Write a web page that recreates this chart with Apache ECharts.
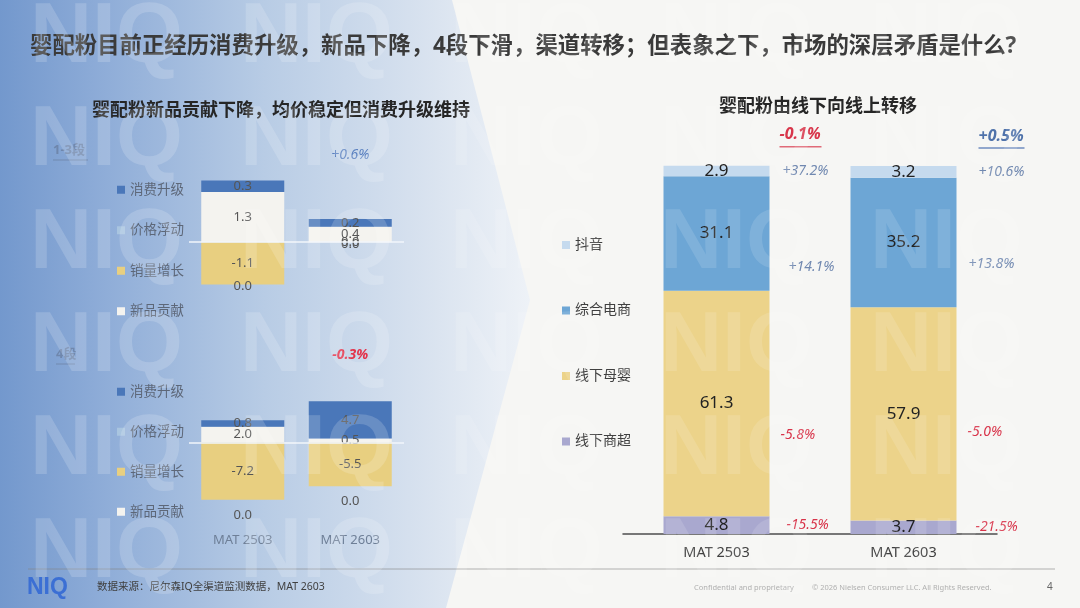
<!DOCTYPE html>
<html>
<head>
<meta charset="utf-8">
<title>婴配粉市场</title>
<script src="https://cdn.jsdelivr.net/npm/echarts@6/dist/echarts.min.js"></script>
<style>
html, body { margin: 0; padding: 0; background: #f6f6f4; }
#main { width: 1080px; height: 608px; }
</style>
</head>
<body>
<div id="main"></div>
<script>
// 类目
var periods = ['MAT 2503', 'MAT 2603'];

// 1-3段：增长拆解
var seg13Upgrade = [0.3, 0.2];   // 消费升级
var seg13Price = [0.0, 0.0];     // 价格浮动
var seg13Volume = [-1.1, 0.0];   // 销量增长
var seg13New = [1.3, 0.4];       // 新品贡献
var seg13Total = [null, '+0.6%'];

// 4段：增长拆解
var seg4Upgrade = [0.8, 4.7];
var seg4Price = [0.0, 0.0];
var seg4Volume = [-7.2, -5.5];
var seg4New = [2.0, 0.5];
var seg4Total = [null, '-0.3%'];

// 渠道份额（%）
var chMall = [4.8, 3.7];      // 线下商超
var chBaby = [61.3, 57.9];    // 线下母婴
var chEcom = [31.1, 35.2];    // 综合电商
var chDouyin = [2.9, 3.2];    // 抖音
// 渠道增速
var grMall = ['-15.5%', '-21.5%'];
var grBaby = ['-5.8%', '-5.0%'];
var grEcom = ['+14.1%', '+13.8%'];
var grDouyin = ['+37.2%', '+10.6%'];
var grTotal = ['-0.1%', '+0.5%'];

var FONT = "'Noto Sans', 'Noto Sans CJK SC', sans-serif";
var C_UP = '#4a77b9', C_PRICE = '#a9c5e0', C_VOL = '#e8cf80', C_NEW = '#f4f3ef';
var C_MALL = '#a9a8cf', C_BABY = '#ecd38a', C_ECOM = '#6da6d5', C_DY = '#c5daee';

function sign(s) { return s.charAt(0) === '-' ? 'n' : 'p'; }
function fix1(p) { return p.value == null ? '' : Number(p.value).toFixed(1); }

var valLabel = { show: true, position: 'inside', fontSize: 13, color: '#555', fontFamily: FONT, formatter: fix1 };

// 左侧两个小图的系列
function waterSeries(idx, up, price, vol, nw, total, zeroDist, totalOffset) {
  var st = 'left' + idx;
  var base = { type: 'bar', stack: st, xAxisIndex: idx, yAxisIndex: idx, barWidth: 83, silent: true };
  return [
    Object.assign({}, base, {
      name: '新品贡献', data: nw, itemStyle: { color: C_NEW }, label: valLabel,
      markLine: {
        silent: true, symbol: ['none', 'none'], label: { show: false },
        lineStyle: { color: '#f2f6fb', width: 1.5, type: 'solid' },
        data: [{ yAxis: 0 }]
      }
    }),
    Object.assign({}, base, { name: '消费升级', data: up, itemStyle: { color: C_UP }, label: valLabel }),
    Object.assign({}, base, { name: '销量增长', data: vol, stackStrategy: 'negative', itemStyle: { color: C_VOL }, label: valLabel }),
    Object.assign({}, base, {
      name: '价格浮动', data: price, stackStrategy: 'negative', itemStyle: { color: C_PRICE },
      label: Object.assign({}, valLabel, { position: 'bottom', distance: zeroDist })
    }),
    Object.assign({}, base, {
      name: '合计' + idx, stackStrategy: 'positive',
      data: total.map(function (t) { return t == null ? null : 0; }),
      itemStyle: { color: 'transparent' },
      label: {
        show: true, position: 'top', offset: [0, totalOffset],
        formatter: function (p) { var t = total[p.dataIndex]; return t ? '{' + sign(t) + '|' + t + '}' : ''; },
        rich: {
          p: { color: '#5a80c0', fontStyle: 'italic', fontSize: 14, fontFamily: FONT },
          n: { color: '#e3344c', fontStyle: 'italic', fontWeight: 'bold', fontSize: 14, fontFamily: FONT }
        }
      }
    })
  ];
}

// 右侧渠道图
var growthRich = {
  p: { color: '#7088b0', fontStyle: 'italic', fontSize: 14, fontFamily: FONT },
  n: { color: '#d83349', fontStyle: 'italic', fontSize: 14, fontFamily: FONT }
};
// 增速标签相对柱子右缘的微调 [dx, dy]，按类目
var OFF_MALL = [[6, 0], [8, 0]];
var OFF_BABY = [[0, 31], [0, 18]];
var OFF_ECOM = [[8, 33], [1, 21]];
var OFF_DY = [[2, 0], [11, 0]];
var OFF_TOTAL = [[0, -29], [12, -28]];

function shareSeries(name, data, color) {
  return {
    name: name, type: 'bar', stack: 'share', xAxisIndex: 2, yAxisIndex: 2, barWidth: 106, barGap: '-100%',
    data: data, itemStyle: { color: color }, silent: true, clip: false,
    label: { show: true, position: 'inside', fontSize: 17, color: '#222', fontFamily: FONT, formatter: fix1 }
  };
}
function withOffsets(data, offs) {
  return data.map(function (v, i) { return { value: v, label: { offset: offs[i] } }; });
}
function growthSeries(name, data, growth, offs) {
  return {
    name: name + '增速', type: 'bar', stack: 'growth', xAxisIndex: 2, yAxisIndex: 2, barWidth: 106, barGap: '-100%',
    data: withOffsets(data, offs), itemStyle: { color: 'transparent' }, silent: true, clip: false,
    label: {
      show: true, position: 'right', distance: 11,
      formatter: function (p) { var g = growth[p.dataIndex]; return '{' + sign(g) + '|' + g + '}'; },
      rich: growthRich
    }
  };
}

var series = []
  .concat(waterSeries(0, seg13Upgrade, seg13Price, seg13Volume, seg13New, seg13Total, -4.5, -52))
  .concat(waterSeries(1, seg4Upgrade, seg4Price, seg4Volume, seg4New, seg4Total, 9, -34))
  .concat([
    shareSeries('线下商超', chMall, C_MALL),
    shareSeries('线下母婴', chBaby, C_BABY),
    shareSeries('综合电商', chEcom, C_ECOM),
    shareSeries('抖音', chDouyin, C_DY),
    growthSeries('线下商超', chMall, grMall, OFF_MALL),
    growthSeries('线下母婴', chBaby, grBaby, OFF_BABY),
    growthSeries('综合电商', chEcom, grEcom, OFF_ECOM),
    growthSeries('抖音', chDouyin, grDouyin, OFF_DY),
    {
      name: '渠道合计', type: 'bar', stack: 'growth', xAxisIndex: 2, yAxisIndex: 2, barWidth: 106, barGap: '-100%',
      data: withOffsets(grTotal.map(function () { return 0; }), OFF_TOTAL),
      itemStyle: { color: 'transparent' }, silent: true, clip: false,
      label: {
        show: true, position: 'right', distance: 10,
        formatter: function (p) { var g = grTotal[p.dataIndex]; return '{' + sign(g) + '|' + g + '}\n{' + sign(g) + 'u|}'; },
        rich: {
          p: { color: '#4f72aa', fontStyle: 'italic', fontWeight: 'bold', fontSize: 16, fontFamily: FONT, lineHeight: 20 },
          n: { color: '#d8364b', fontStyle: 'italic', fontWeight: 'bold', fontSize: 16, fontFamily: FONT, lineHeight: 20 },
          pu: { backgroundColor: '#6f8cc0', width: 46, height: 1.5, lineHeight: 4 },
          nu: { backgroundColor: '#e06a78', width: 42, height: 1.5, lineHeight: 4 }
        }
      }
    }
  ]);

// 背景、水印、页脚
var graphics = [
  {
    type: 'polygon', z: -10, silent: true,
    shape: { points: [[0, 0], [452, 0], [530, 300], [446, 608], [0, 608]] },
    style: {
      fill: new echarts.graphic.LinearGradient(0, 0, 1, 0, [
        { offset: 0, color: '#7398cd' },
        { offset: 0.2, color: '#8fadd8' },
        { offset: 0.5, color: '#b8cce5' },
        { offset: 0.8, color: '#d8e2ef' },
        { offset: 1, color: '#eef2f7' }
      ])
    }
  }
];
for (var r = 0; r < 6; r++) {
  for (var c = 0; c < 6; c++) {
    graphics.push({
      type: 'text', z: 50, silent: true, left: 30 + c * 210, top: -5 + r * 103,
      style: { text: 'NIQ', fontSize: 86, fontWeight: 'bold', fontFamily: 'Liberation Sans',
        fill: c < 2 ? 'rgba(255,255,255,0.17)' : 'rgba(255,255,255,0.13)' }
    });
  }
}
graphics = graphics.concat([
  { type: 'text', left: 53, top: 144, silent: true,
    style: { text: '1-3段', fontSize: 13, fontWeight: 'bold', fontFamily: FONT, fill: 'rgba(95,112,140,0.55)' } },
  { type: 'line', silent: true, shape: { x1: 53, y1: 160, x2: 88, y2: 160 }, style: { stroke: 'rgba(95,112,140,0.5)', lineWidth: 1 } },
  { type: 'text', left: 56, top: 348, silent: true,
    style: { text: '4段', fontSize: 13, fontWeight: 'bold', fontFamily: FONT, fill: 'rgba(95,112,140,0.55)' } },
  { type: 'line', silent: true, shape: { x1: 56, y1: 364, x2: 75, y2: 364 }, style: { stroke: 'rgba(95,112,140,0.5)', lineWidth: 1 } },
  { type: 'line', silent: true, shape: { x1: 28, y1: 569, x2: 1055, y2: 569 }, style: { stroke: 'rgba(130,130,130,0.6)', lineWidth: 1 } },
  { type: 'text', left: 27, top: 576, silent: true,
    style: { text: 'NIQ', fontSize: 23, fontWeight: 900, fontFamily: 'Liberation Sans', fill: '#3b6fd4' } },
  { type: 'text', left: 97, top: 582, silent: true,
    style: { text: '数据来源：尼尔森IQ全渠道监测数据，MAT 2603', fontSize: 10.5, fontFamily: FONT, fill: '#404040' } },
  { type: 'text', left: 694, top: 584, silent: true,
    style: { text: 'Confidential and proprietary', fontSize: 7.5, fontFamily: FONT, fill: '#b0b0b0' } },
  { type: 'text', left: 812, top: 584, silent: true,
    style: { text: '© 2026 Nielsen Consumer LLC. All Rights Reserved.', fontSize: 7.5, fontFamily: FONT, fill: '#b0b0b0' } },
  { type: 'text', left: 1047, top: 582, silent: true,
    style: { text: '4', fontSize: 10, fontFamily: FONT, fill: '#666' } }
]);

var legendText = { fontSize: 13.5, color: '#5d6778', fontFamily: FONT };
var leftNames = ['消费升级', '价格浮动', '销量增长', '新品贡献'];

var chart = echarts.init(document.getElementById('main'));
chart.setOption({
  backgroundColor: '#f6f6f4',
  animation: false,
  textStyle: { fontFamily: FONT },
  title: [
    { text: '婴配粉目前正经历消费升级，新品下降，4段下滑，渠道转移；但表象之下，市场的深层矛盾是什么?',
      left: 25, top: 30, textStyle: { fontSize: 22.4, fontWeight: 'bold', color: '#3a3a3a', fontFamily: FONT } },
    { text: '婴配粉新品贡献下降，均价稳定但消费升级维持',
      left: 87, top: 97, textStyle: { fontSize: 18, fontWeight: 'bold', color: '#262626', fontFamily: FONT } },
    { text: '婴配粉由线下向线上转移',
      left: 714, top: 93, textStyle: { fontSize: 18, fontWeight: 'bold', color: '#262626', fontFamily: FONT } }
  ],
  legend: [
    { data: leftNames, orient: 'vertical', left: 112, top: 178, itemGap: 27, itemWidth: 8, itemHeight: 8,
      icon: 'rect', textStyle: legendText, selectedMode: false },
    { data: leftNames, orient: 'vertical', left: 112, top: 380, itemGap: 26.5, itemWidth: 8, itemHeight: 8,
      icon: 'rect', textStyle: legendText, selectedMode: false },
    { data: ['抖音', '综合电商', '线下母婴', '线下商超'], orient: 'vertical', left: 557, top: 233, itemGap: 51.5,
      itemWidth: 8, itemHeight: 8, icon: 'rect', selectedMode: false,
      textStyle: { fontSize: 14, color: '#404040', fontFamily: FONT } }
  ],
  grid: [
    { left: 189, top: 165, width: 215, height: 135 },
    { left: 189, top: 379, width: 215, height: 143 },
    { left: 623, top: 166, width: 374, height: 368 }
  ],
  xAxis: [
    { type: 'category', gridIndex: 0, data: periods, show: false },
    { type: 'category', gridIndex: 1, data: periods,
      axisLine: { show: false, onZero: false }, axisTick: { show: false },
      axisLabel: { color: '#6e7f97', fontSize: 13, margin: 12, fontFamily: FONT } },
    { type: 'category', gridIndex: 2, data: periods,
      axisLine: { lineStyle: { color: '#4d4d4d', width: 1.5 } }, axisTick: { show: false },
      axisLabel: { color: '#404040', fontSize: 14.5, margin: 12, fontFamily: FONT } }
  ],
  yAxis: [
    { type: 'value', gridIndex: 0, min: -1.5, max: 2, show: false, splitLine: { show: false } },
    { type: 'value', gridIndex: 1, min: -10, max: 8, show: false, splitLine: { show: false } },
    { type: 'value', gridIndex: 2, min: 0, max: 100, show: false, splitLine: { show: false } }
  ],
  graphic: graphics,
  series: series
});
</script>
</body>
</html>
